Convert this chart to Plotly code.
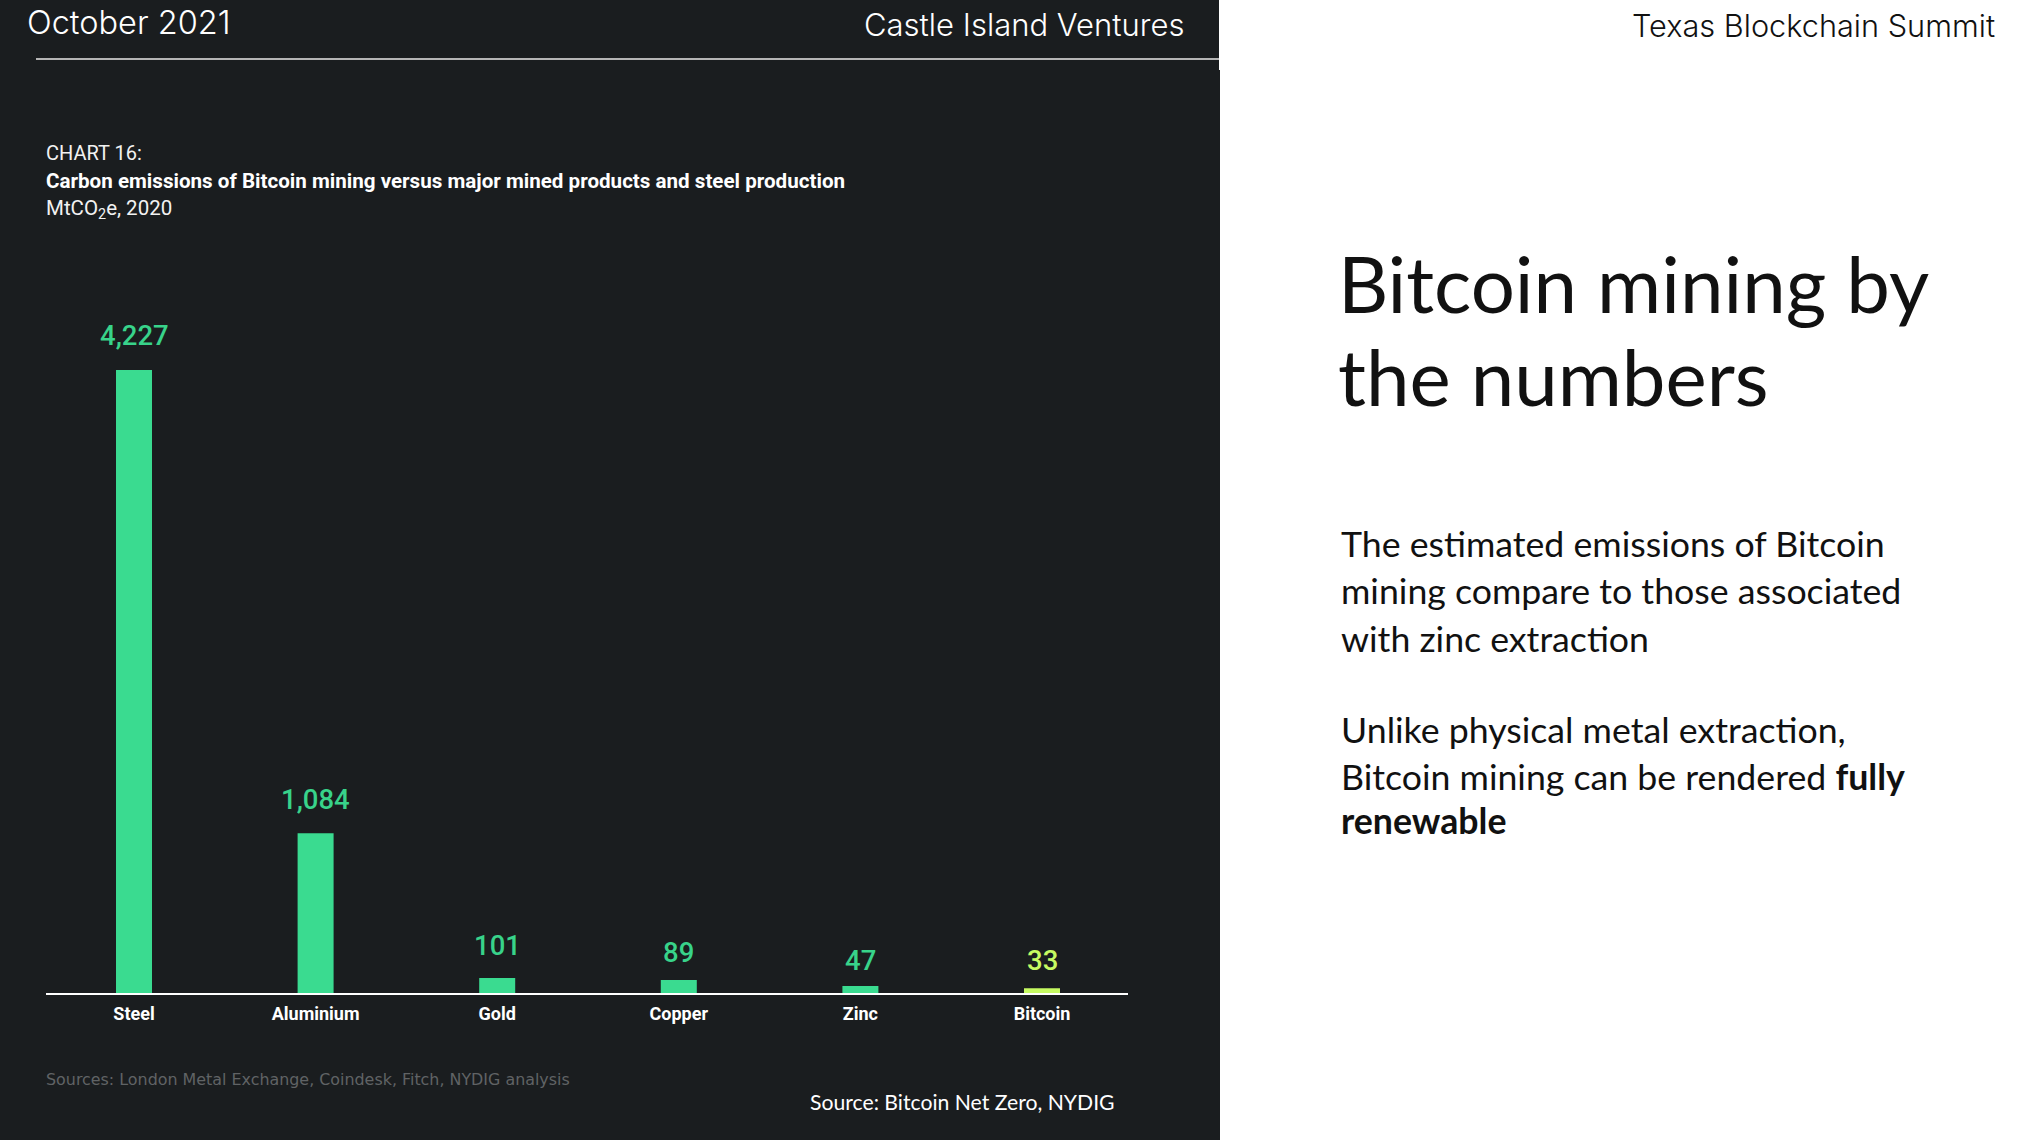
import plotly.graph_objects as go

WIDTH = 2040
HEIGHT = 1140

categories = ['Steel', 'Aluminium', 'Gold', 'Copper', 'Zinc', 'Bitcoin']
emissions = [4227, 1084, 101, 89, 47, 33]
bar_colors = ['#3ADB90', '#3ADB90', '#3ADB90', '#3ADB90', '#3ADB90', '#C6FA62']
label_colors = ['#38D38A', '#38D38A', '#38D38A', '#38D38A', '#38D38A', '#C6FA62']
label_gaps = [16, 15, 14, 9, 7, 9]

body_lines = [
    ('The estimated emissions of Bitcoin', 544),
    ('mining compare to those associated', 590),
    ('with zinc extraction', 638),
    ('Unlike physical metal extraction,', 729),
    ('Bitcoin mining can be rendered <b>fully</b>', 776),
    ('<b>renewable</b>', 820),
]

# pixel geometry of the plot inside the slide
AXIS_LEFT, AXIS_RIGHT = 46, 1128
BASELINE, BAR_TOP = 993, 370
FIRST_CENTER, STEP = 134, 181.6
Y_MAX = 4700


def px(x):
    return x / WIDTH


def py(y):
    return 1 - y / HEIGHT


def label(text, x, y, size, color, family='Roboto', anchor='left', weight=None):
    return dict(
        text=text, x=px(x), y=py(y), xref='paper', yref='paper',
        xanchor=anchor, yanchor='middle', showarrow=False,
        font=dict(family=family, size=size, color=color, weight=weight),
    )


fig = go.Figure()

fig.add_trace(go.Bar(
    x=list(range(len(categories))),
    y=emissions,
    width=36 / STEP,
    marker=dict(color=bar_colors, line=dict(width=0)),
    hoverinfo='x+y',
))

annotations = [
    label('October 2021', 25, 23, 32.5, '#FFFFFF', 'Inter', weight=300),
    label('Castle Island Ventures', 862, 25, 31, '#FFFFFF', 'Inter', weight=300),
    label('CHART 16:', 44, 153, 20, '#F2F2F2'),
    label('<b>Carbon emissions of Bitcoin mining versus major mined products and steel production</b>',
          44, 181, 20.6, '#FFFFFF'),
    label('MtCO<sub>2</sub>e, 2020', 44, 209, 20.5, '#F2F2F2'),
    label('Sources: London Metal Exchange, Coindesk, Fitch, NYDIG analysis',
          44, 1079, 15.9, '#606365', 'DejaVu Sans'),
    label('Source: Bitcoin Net Zero, NYDIG', 808, 1102, 21.2, '#FFFFFF', 'Lato'),
    label('Texas Blockchain Summit', 1630, 26, 30.7, '#111111', 'Inter', weight=300),
    label('Bitcoin mining by', 1336, 283, 78, '#111111', 'Lato'),
    label('the numbers', 1336, 376, 78, '#111111', 'Lato'),
]

for text, y in body_lines:
    annotations.append(label(text, 1339, y, 35.7, '#111111', 'Lato'))

for i, value in enumerate(emissions):
    annotations.append(dict(
        text=f'{value:,}', x=i, y=value, xref='x', yref='y',
        xanchor='center', yanchor='bottom', yshift=label_gaps[i], showarrow=False,
        font=dict(family='Roboto', size=27.5, color=label_colors[i], weight=500),
    ))

fig.update_layout(
    width=WIDTH,
    height=HEIGHT,
    margin=dict(l=0, r=0, t=0, b=0),
    paper_bgcolor='#FFFFFF',
    plot_bgcolor='rgba(0,0,0,0)',
    showlegend=False,
    annotations=annotations,
    shapes=[
        dict(type='rect', xref='paper', yref='paper', layer='below', line_width=0,
             x0=0, x1=px(1219), y0=py(70), y1=1, fillcolor='#1A1D1F'),
        dict(type='rect', xref='paper', yref='paper', layer='below', line_width=0,
             x0=0, x1=px(1220), y0=0, y1=py(70), fillcolor='#1A1D1F'),
        dict(type='line', xref='paper', yref='paper', layer='below',
             x0=px(36), x1=px(1219), y0=py(59), y1=py(59),
             line=dict(color='#B5B5B5', width=2)),
    ],
    xaxis=dict(
        domain=[px(AXIS_LEFT), px(AXIS_RIGHT)],
        range=[(AXIS_LEFT - FIRST_CENTER) / STEP, (AXIS_RIGHT - FIRST_CENTER) / STEP],
        tickmode='array',
        tickvals=list(range(len(categories))),
        ticktext=[f'<b>{c}</b>' for c in categories],
        tickfont=dict(family='Roboto', size=18, color='#FFFFFF'),
        ticks='outside',
        ticklen=3,
        tickcolor='rgba(0,0,0,0)',
        showgrid=False,
        zeroline=False,
        showline=True,
        linecolor='#FFFFFF',
        linewidth=2,
    ),
    yaxis=dict(
        domain=[py(BASELINE), py(BASELINE - (BASELINE - BAR_TOP) * Y_MAX / emissions[0])],
        range=[0, Y_MAX],
        visible=False,
    ),
)

# the page body has a default margin that would shift the slide
fig.write_html('out.html', config=dict(displayModeBar=False),
               post_script="document.body.style.margin = '0';")
